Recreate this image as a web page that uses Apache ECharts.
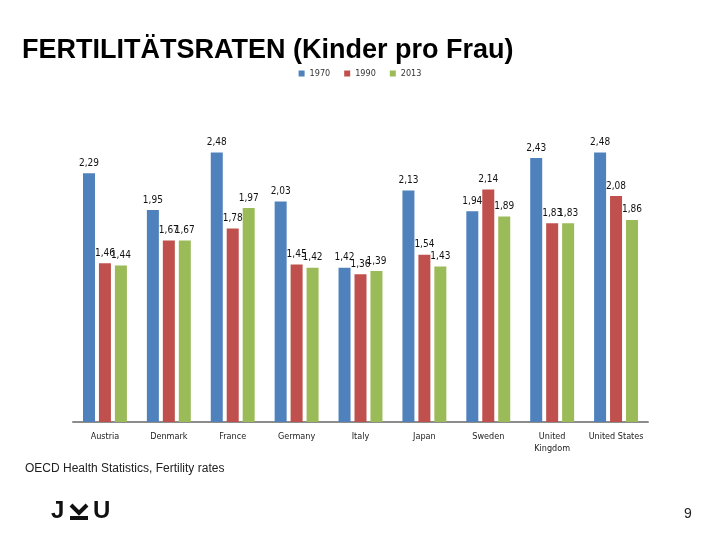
<!DOCTYPE html>
<html>
<head>
<meta charset="utf-8">
<script src="https://cdn.jsdelivr.net/npm/echarts@6/dist/echarts.min.js"></script>
<style>html,body{margin:0;padding:0;background:#fff}#c{width:720px;height:540px}</style>
</head>
<body>
<div id="c"></div>
<script>
const categories = ['Austria','Denmark','France','Germany','Italy','Japan','Sweden','United\nKingdom','United States'];
const seriesNames = ['1970','1990','2013'];
const values1970 = [2.29, 1.95, 2.48, 2.03, 1.42, 2.13, 1.94, 2.43, 2.48];
const values1990 = [1.46, 1.67, 1.78, 1.45, 1.36, 1.54, 2.14, 1.83, 2.08];
const values2013 = [1.44, 1.67, 1.97, 1.42, 1.39, 1.43, 1.89, 1.83, 1.86];
const colors = ['#4F81BD', '#C0504D', '#9BBB59'];

const chart = echarts.init(document.getElementById('c'));
const labelFont = 'Liberation Sans Narrow, DejaVu Sans Condensed, sans-serif';
function mk(name, data, color) {
  return {
    name: name, type: 'bar', data: data, barWidth: 12, barGap: '33%',
    itemStyle: { color: color },
    label: {
      show: true, position: 'top', distance: 5, color: '#111', fontSize: 10,
      fontFamily: labelFont,
      formatter: p => p.value.toFixed(2).replace('.', ',')
    }
  };
}
chart.setOption({
  animation: false,
  title: {
    text: 'FERTILITÄTSRATEN (Kinder pro Frau)', left: 17, top: 32,
    textStyle: { fontFamily: 'Liberation Sans, Arial, sans-serif', fontWeight: 'bold', fontSize: 27, color: '#000' }
  },
  legend: {
    data: seriesNames, top: 64, left: 'center', itemWidth: 6, itemHeight: 6, itemGap: 14,
    icon: 'rect',
    textStyle: { fontSize: 9, color: '#333', fontFamily: labelFont }
  },
  grid: { left: 73, right: 72, top: 96, bottom: 118 },
  xAxis: {
    type: 'category', data: categories,
    axisLine: { lineStyle: { color: '#8c8c8c', width: 2 } },
    axisTick: { show: false },
    axisLabel: { fontSize: 9, color: '#222', fontFamily: labelFont, margin: 9, lineHeight: 12, interval: 0 }
  },
  yAxis: { type: 'value', min: 0, max: 3, show: false, splitLine: { show: false } },
  series: [mk(seriesNames[0], values1970, colors[0]), mk(seriesNames[1], values1990, colors[1]), mk(seriesNames[2], values2013, colors[2])],
  graphic: [
    { type: 'text', left: 25, top: 463, style: { text: 'OECD Health Statistics, Fertility rates', fontSize: 12, fill: '#222', fontFamily: 'Liberation Sans Narrow, Liberation Sans, sans-serif' } },
    { type: 'text', left: 684, top: 507, style: { text: '9', fontSize: 14, fill: '#222', fontFamily: 'Liberation Sans, sans-serif' } },
    { type: 'text', left: 51, top: 499, style: { text: 'J', fontSize: 24, fontWeight: 'bold', fill: '#111', fontFamily: 'Liberation Sans, sans-serif' } },
    { type: 'polyline', shape: { points: [[71, 505], [79, 513], [87, 505]] }, style: { stroke: '#111', lineWidth: 4, fill: null } },
    { type: 'rect', shape: { x: 70, y: 516, width: 18, height: 4 }, style: { fill: '#111' } },
    { type: 'text', left: 93, top: 499, style: { text: 'U', fontSize: 24, fontWeight: 'bold', fill: '#111', fontFamily: 'Liberation Sans, sans-serif' } }
  ]
});
</script>
</body>
</html>
